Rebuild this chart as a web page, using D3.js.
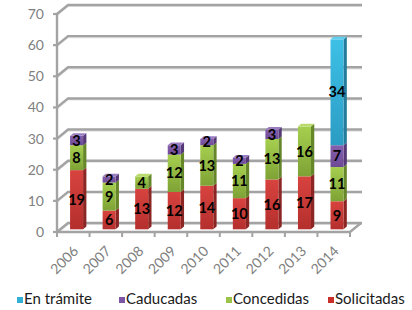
<!DOCTYPE html>
<html><head><meta charset="utf-8">
<script src="https://cdn.jsdelivr.net/npm/d3@7"></script>
<style>html,body{margin:0;padding:0;background:#fff;}svg{display:block;}</style>
</head><body>
<svg id="c" width="412" height="310"></svg>
<script>
const years = ["2006","2007","2008","2009","2010","2011","2012","2013","2014"];
const solicitadas = [19,6,13,12,14,10,16,17,9];
const concedidas  = [8,9,4,12,13,11,13,16,11];
const caducadas   = [3,2,0,3,2,2,3,0,7];
const enTramite   = [0,0,0,0,0,0,0,0,34];
const yTicks = [0,10,20,30,40,50,60,70];

const series = [
  {name:"Solicitadas", vals:solicitadas, top:"#d8433f", bot:"#b42f2d", side:"#8c2624", cap:"#e0615c", leg:"#c9302c"},
  {name:"Concedidas",  vals:concedidas,  top:"#a6cf4f", bot:"#7ea235", side:"#66862a", cap:"#b9db6e", leg:"#9bc34a"},
  {name:"Caducadas",   vals:caducadas,   top:"#8560ad", bot:"#6e4a96", side:"#553877", cap:"#9a7cc0", leg:"#7c55a6"},
  {name:"En trámite",  vals:enTramite,   top:"#3ec0e6", bot:"#2b9cc4", side:"#237c9c", cap:"#5fcdee", leg:"#31b0d6"}
];
const legendOrder = ["En trámite","Caducadas","Concedidas","Solicitadas"];

const svg = d3.select("#c");
const font = "Lato, 'Open Sans', sans-serif";
const x0 = 57, x1 = 350, dX = 11, dY = -9;
const y = d3.scaleLinear().domain([0,70]).range([232,14]);
const x = d3.scaleBand().domain(years).range([x0,x1]).paddingInner(0.6).paddingOuter(0.3);
const step = x.step();
const f = 0.3, bdx = dX*f, bdy = dY*f;
const gridColor = "#a3a3a3";

const defs = svg.append("defs");
series.forEach((s,i)=>{
  const g = defs.append("linearGradient").attr("id","g"+i).attr("x1",0).attr("y1",0).attr("x2",0).attr("y2",1);
  g.append("stop").attr("offset","0%").attr("stop-color",s.top);
  g.append("stop").attr("offset","100%").attr("stop-color",s.bot);
});

const grid = svg.append("g");
yTicks.forEach(v=>{
  const yy = y(v);
  grid.append("path").attr("d",`M${x0},${yy+1.5}L${x0+dX},${yy+dY+1.5}L${x1+dX+1},${yy+dY+1.5}`)
    .attr("fill","none").attr("stroke","#e4e4e4").attr("stroke-width",1.2);
  grid.append("path").attr("d",`M${x0},${yy}L${x0+dX},${yy+dY}L${x1+dX+1},${yy+dY}`)
    .attr("fill","none").attr("stroke",gridColor).attr("stroke-width",2.4);
  grid.append("line").attr("x1",x0-4).attr("x2",x0).attr("y1",yy).attr("y2",yy)
    .attr("stroke",gridColor).attr("stroke-width",2.2);
});
grid.append("path").attr("d",`M${x0},${y(0)}L${x1},${y(0)}L${x1+dX},${y(0)+dY}`)
  .attr("fill","none").attr("stroke",gridColor).attr("stroke-width",2.4);
grid.append("line").attr("x1",x0).attr("x2",x0).attr("y1",y(70)).attr("y2",y(0)+1)
  .attr("stroke",gridColor).attr("stroke-width",2.4);
d3.range(years.length+1).forEach(i=>{
  const xx = x0 + i*step;
  grid.append("line").attr("x1",xx).attr("x2",xx).attr("y1",y(0)).attr("y2",y(0)+5)
    .attr("stroke",gridColor).attr("stroke-width",2);
});

svg.append("g").selectAll("text").data(yTicks).join("text")
  .attr("x",44).attr("y",d=>y(d)).attr("dy","0.36em").attr("text-anchor","end")
  .attr("font-family",font).attr("font-size",14).attr("fill","#808080").text(d=>d);

const bars = svg.append("g");
const labels = svg.append("g");
years.forEach((yr,i)=>{
  const bx = x(yr) + bdx, bw = x.bandwidth();
  let cum = 0;
  let topIdx = -1;
  series.forEach((s,si)=>{ if (s.vals[i] > 0) topIdx = si; });
  series.forEach((s,si)=>{
    const v = s.vals[i];
    if (!v) return;
    const yb = y(cum) + bdy, yt = y(cum+v) + bdy;
    bars.append("path").attr("d",`M${bx+bw},${yt}L${bx+bw+bdx},${yt+bdy}L${bx+bw+bdx},${yb+bdy}L${bx+bw},${yb}Z`)
      .attr("fill",s.side);
    bars.append("rect").attr("x",bx).attr("y",yt).attr("width",bw).attr("height",yb-yt)
      .attr("fill",`url(#g${si})`);
    if (si === topIdx) {
      bars.append("path").attr("d",`M${bx},${yt}L${bx+bdx},${yt+bdy}L${bx+bw+bdx},${yt+bdy}L${bx+bw},${yt}Z`)
        .attr("fill",s.cap);
    }
    labels.append("text").attr("x",bx+bw/2).attr("y",(yt+yb)/2).attr("dy","0.36em")
      .attr("text-anchor","middle").attr("font-family",font).attr("font-weight","bold")
      .attr("font-size",14.5).attr("fill","#000").text(v);
    cum += v;
  });
});

svg.append("g").selectAll("text").data(years).join("text")
  .attr("transform",d=>`translate(${x(d)+x.bandwidth()/2+6},252) rotate(-45)`)
  .attr("text-anchor","end").attr("font-family",font).attr("font-size",14).attr("fill","#808080")
  .text(d=>d);

const legX = [17,119,226,328];
const leg = svg.append("g");
legendOrder.forEach((n,i)=>{
  const s = series.find(t=>t.name===n);
  leg.append("rect").attr("x",legX[i]).attr("y",297).attr("width",6).attr("height",6).attr("fill",s.leg);
  leg.append("text").attr("x",legX[i]+7).attr("y",304).attr("font-family",font).attr("font-size",15)
    .attr("fill","#1a1a1a").text(n);
});
</script>
</body></html>
